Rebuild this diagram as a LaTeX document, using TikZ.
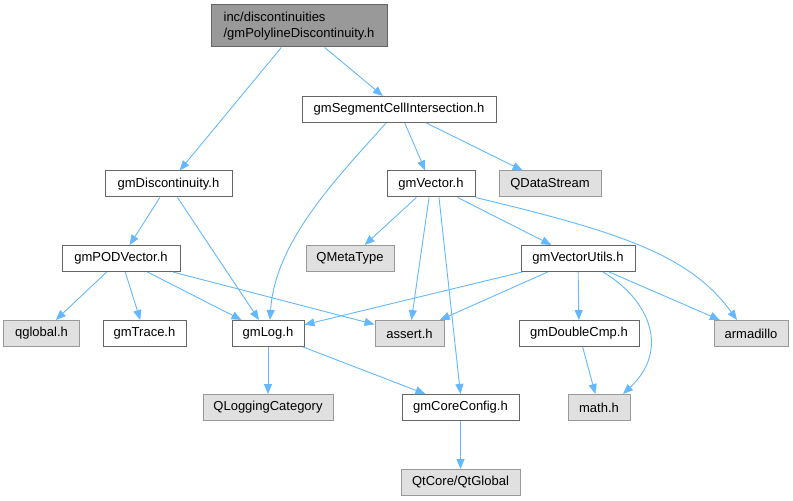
\documentclass[tikz,border=0pt]{standalone}
\usepackage{fontspec}
\setmainfont{Liberation Sans}
\usetikzlibrary{arrows.meta}
\definecolor{edgeblue}{HTML}{63B8FF}
\definecolor{darkborder}{HTML}{666666}
\definecolor{lightborder}{HTML}{999999}
\definecolor{extfill}{HTML}{E0E0E0}
\definecolor{rootfill}{HTML}{999999}
\tikzset{
  base/.style={draw, rectangle, line width=1bp, inner sep=0pt, minimum height=26bp,
    font=\fontsize{13bp}{16bp}\selectfont},
  doc/.style={base, draw=darkborder, fill=white},
  ext/.style={base, draw=lightborder, fill=extfill},
  rootbox/.style={base, draw=darkborder, fill=rootfill, align=left, minimum height=42bp},
  dep/.style={draw=edgeblue, line width=0.9bp, -{Triangle[length=10bp,width=8bp]}, edgeblue}
}
\begin{document}
\begin{tikzpicture}[x=1bp,y=-1bp]
\useasboundingbox (0,0) rectangle (793,501);
\node[rootbox, minimum width=176bp] (root) at (299,26) {inc/discontinuities\\/gmPolylineDiscontinuity.h};
\node[doc, minimum width=194bp] (seg) at (399,109.5) {gmSegmentCellIntersection.h};
\node[doc, minimum width=127bp] (disc) at (168.5,184) {gmDiscontinuity.h};
\node[doc, minimum width=88bp] (vec) at (431,184) {gmVector.h};
\node[ext, minimum width=102bp] (qds) at (550,184) {QDataStream};
\node[doc, minimum width=118bp] (pod) at (121,258.5) {gmPODVector.h};
\node[ext, minimum width=88bp] (qmeta) at (350,258.5) {QMetaType};
\node[doc, minimum width=114bp] (vutils) at (578,258.5) {gmVectorUtils.h};
\node[ext, minimum width=75bp] (qglobal) at (41.5,333.5) {qglobal.h};
\node[doc, minimum width=83bp] (gmtrace) at (144.5,333.5) {gmTrace.h};
\node[doc, minimum width=72bp] (gmlog) at (268,333.5) {gmLog.h};
\node[ext, minimum width=69bp] (assert) at (409.5,333.5) {assert.h};
\node[doc, minimum width=120bp] (dcmp) at (579,333.5) {gmDoubleCmp.h};
\node[ext, minimum width=74bp] (arma) at (751,333.5) {armadillo};
\node[ext, minimum width=130bp] (qlog) at (268,407.5) {QLoggingCategory};
\node[doc, minimum width=117bp] (ccfg) at (460.5,407.5) {gmCoreConfig.h};
\node[ext, minimum width=62bp] (math) at (599,407.5) {math.h};
\node[ext, minimum width=119bp] (qtg) at (460.5,482.5) {QtCore/QtGlobal};

\draw[dep] (root) -- (disc);
\draw[dep] (root) -- (seg);
\draw[dep] ([xshift=-13bp]seg.south) .. controls (340,175) and (275,240) .. ([xshift=2bp]gmlog.north);
\draw[dep] (seg) -- (vec);
\draw[dep] (seg) -- (qds);
\draw[dep] (disc) -- (pod);
\draw[dep] (disc) -- (gmlog);
\draw[dep] (vec) -- (qmeta);
\draw[dep] (vec) -- (assert);
\draw[dep] ([xshift=8bp]vec.south) -- (ccfg.north);
\draw[dep] (vec) -- (vutils);
\draw[dep] (vec.south east) .. controls (620,232) and (690,255) .. ([xshift=-14bp]arma.north);
\draw[dep] (pod) -- (qglobal);
\draw[dep] (pod) -- (gmtrace);
\draw[dep] (pod) -- (gmlog);
\draw[dep] (pod) -- (assert);
\draw[dep] (vutils) -- (gmlog);
\draw[dep] (vutils) -- (assert);
\draw[dep] (vutils) -- (dcmp);
\draw[dep] ([xshift=25bp]vutils.south) .. controls (650,300) and (670,350) .. ([xshift=24bp]math.north);
\draw[dep] (vutils) -- (arma);
\draw[dep] (gmlog) -- (qlog);
\draw[dep] (gmlog) -- (ccfg);
\draw[dep] (dcmp) -- (math);
\draw[dep] (ccfg) -- (qtg);
\end{tikzpicture}
\end{document}
